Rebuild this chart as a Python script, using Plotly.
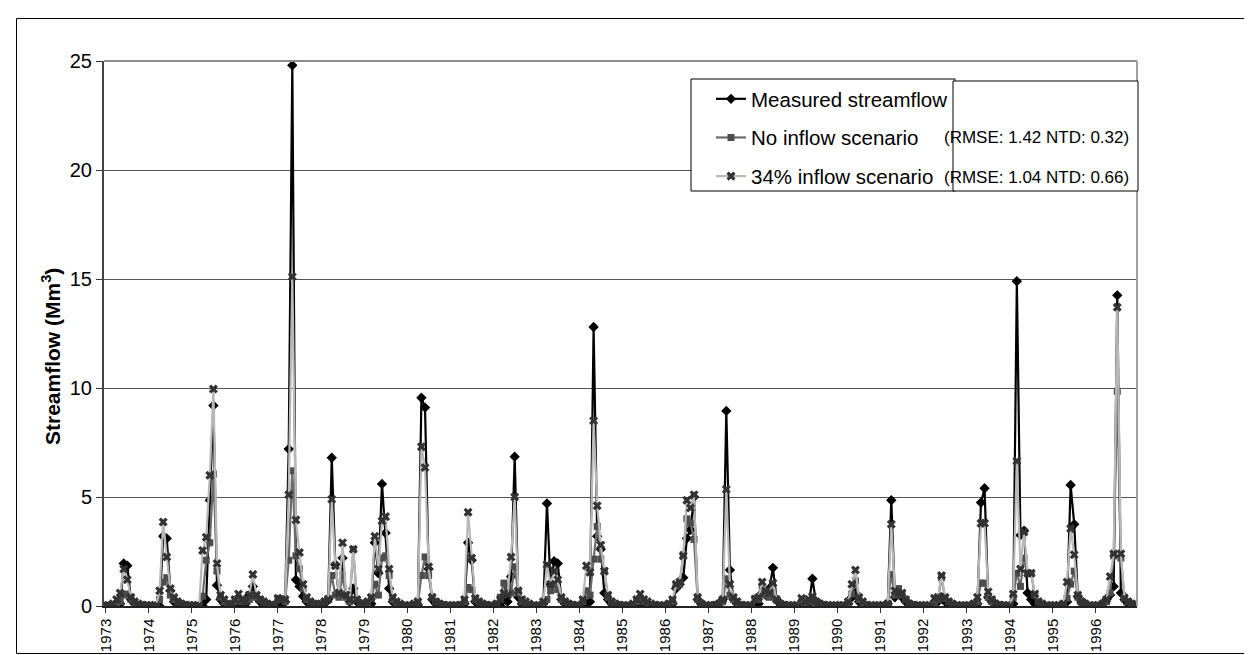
import plotly.graph_objects as go

years = list(range(1973, 1997))
tick_labels = [str(y) for y in years]

# Monthly streamflow (Mm3), Jan..Dec for each year 1973-1996
measured = [
    0.0, 0.0, 0.0, 0.0, 0.1, 1.95, 1.85, 0.3, 0.1, 0.0, 0.0, 0.0,      # 1973
    0.0, 0.0, 0.0, 0.0, 3.2, 3.1, 0.7, 0.2, 0.1, 0.05, 0.0, 0.0,       # 1974
    0.0, 0.0, 0.0, 0.0, 0.3, 4.85, 9.2, 0.95, 0.3, 0.1, 0.05, 0.0,     # 1975
    0.1, 0.2, 0.1, 0.1, 0.5, 0.9, 0.4, 0.2, 0.1, 0.05, 0.0, 0.0,       # 1976
    0.1, 0.1, 0.2, 7.2, 24.8, 1.2, 0.9, 0.45, 0.2, 0.1, 0.05, 0.0,     # 1977
    0.0, 0.1, 0.3, 6.8, 1.9, 0.5, 2.2, 0.5, 0.2, 0.8, 0.2, 0.1,        # 1978
    0.0, 0.0, 0.1, 2.9, 1.5, 5.6, 3.35, 0.8, 0.2, 0.1, 0.0, 0.0,       # 1979
    0.0, 0.0, 0.0, 0.05, 9.55, 9.1, 1.7, 0.3, 0.1, 0.05, 0.0, 0.0,     # 1980
    0.0, 0.0, 0.0, 0.0, 0.1, 2.9, 2.1, 0.2, 0.1, 0.0, 0.0, 0.0,        # 1981
    0.0, 0.0, 0.0, 0.3, 0.2, 1.35, 6.85, 0.4, 0.1, 0.05, 0.0, 0.0,     # 1982
    0.0, 0.0, 0.1, 4.7, 1.0, 2.05, 1.95, 0.3, 0.1, 0.0, 0.0, 0.0,      # 1983
    0.0, 0.0, 0.1, 0.2, 12.8, 3.2, 2.6, 0.6, 0.3, 0.1, 0.0, 0.0,       # 1984
    0.0, 0.0, 0.0, 0.0, 0.05, 0.2, 0.1, 0.05, 0.0, 0.0, 0.0, 0.0,      # 1985
    0.0, 0.0, 0.1, 0.8, 1.0, 1.3, 3.1, 3.5, 5.0, 0.3, 0.1, 0.0,        # 1986
    0.0, 0.0, 0.0, 0.1, 0.3, 8.95, 1.65, 0.3, 0.1, 0.0, 0.0, 0.0,      # 1987
    0.0, 0.0, 0.1, 0.6, 0.5, 0.8, 1.75, 0.3, 0.1, 0.0, 0.0, 0.0,       # 1988
    0.0, 0.0, 0.0, 0.0, 0.1, 1.25, 0.2, 0.1, 0.0, 0.0, 0.0, 0.0,       # 1989
    0.0, 0.0, 0.0, 0.1, 0.4, 0.6, 0.2, 0.1, 0.0, 0.0, 0.0, 0.0,        # 1990
    0.0, 0.0, 0.1, 4.85, 0.4, 0.6, 0.4, 0.2, 0.1, 0.0, 0.0, 0.0,       # 1991
    0.0, 0.0, 0.0, 0.1, 0.2, 0.4, 0.2, 0.1, 0.0, 0.0, 0.0, 0.0,        # 1992
    0.0, 0.0, 0.0, 0.1, 4.75, 5.4, 0.4, 0.2, 0.1, 0.0, 0.0, 0.0,       # 1993
    0.0, 0.1, 14.9, 3.25, 3.45, 0.6, 0.3, 0.1, 0.0, 0.0, 0.0, 0.0,     # 1994
    0.0, 0.0, 0.0, 0.0, 0.2, 5.55, 3.75, 0.45, 0.2, 0.1, 0.0, 0.0,     # 1995
    0.0, 0.0, 0.1, 0.3, 0.5, 0.9, 14.25, 0.6, 0.3, 0.1, 0.05, 0.0,     # 1996
]

no_inflow = [
    0.0, 0.0, 0.05, 0.1, 0.2, 0.5, 0.55, 0.3, 0.15, 0.05, 0.0, 0.0,    # 1973
    0.0, 0.0, 0.0, 0.3, 1.1, 1.3, 0.5, 0.3, 0.2, 0.1, 0.05, 0.0,       # 1974
    0.0, 0.0, 0.0, 0.45, 2.1, 2.9, 6.05, 1.6, 0.4, 0.2, 0.1, 0.05,     # 1975
    0.2, 0.3, 0.2, 0.2, 0.3, 0.5, 0.4, 0.3, 0.2, 0.1, 0.05, 0.0,       # 1976
    0.35, 0.3, 0.2, 2.1, 6.2, 2.3, 1.7, 0.8, 0.3, 0.2, 0.1, 0.05,      # 1977
    0.1, 0.2, 0.35, 1.4, 0.5, 0.4, 1.4, 0.4, 0.2, 2.6, 0.3, 0.1,       # 1978
    0.1, 0.1, 0.35, 1.0, 0.5, 2.2, 2.3, 1.4, 0.3, 0.15, 0.05, 0.0,     # 1979
    0.0, 0.0, 0.05, 0.1, 1.4, 2.25, 1.4, 0.4, 0.2, 0.1, 0.05, 0.0,     # 1980
    0.0, 0.0, 0.0, 0.0, 0.2, 0.85, 0.75, 0.3, 0.2, 0.1, 0.05, 0.0,     # 1981
    0.0, 0.1, 0.4, 1.05, 0.9, 0.6, 1.8, 0.6, 0.2, 0.1, 0.05, 0.0,      # 1982
    0.0, 0.0, 0.1, 0.3, 0.7, 1.0, 0.75, 0.3, 0.2, 0.1, 0.05, 0.0,      # 1983
    0.0, 0.2, 0.7, 0.5, 2.15, 3.65, 2.15, 1.6, 0.4, 0.2, 0.1, 0.05,    # 1984
    0.0, 0.0, 0.0, 0.05, 0.2, 0.35, 0.2, 0.1, 0.05, 0.0, 0.0, 0.0,     # 1985
    0.0, 0.1, 0.2, 0.9, 1.0, 2.35, 4.0, 3.8, 3.05, 0.3, 0.1, 0.0,      # 1986
    0.0, 0.0, 0.05, 0.1, 0.2, 1.25, 0.5, 0.3, 0.1, 0.05, 0.0, 0.0,     # 1987
    0.0, 0.35, 0.3, 0.8, 0.5, 0.4, 0.7, 0.3, 0.1, 0.05, 0.0, 0.0,      # 1988
    0.0, 0.0, 0.2, 0.1, 0.2, 0.35, 0.2, 0.1, 0.05, 0.0, 0.0, 0.0,      # 1989
    0.0, 0.0, 0.0, 0.1, 0.55, 1.15, 0.3, 0.15, 0.05, 0.0, 0.0, 0.0,    # 1990
    0.0, 0.0, 0.1, 1.45, 0.5, 0.8, 0.5, 0.3, 0.1, 0.05, 0.0, 0.0,      # 1991
    0.0, 0.0, 0.0, 0.1, 0.3, 1.3, 0.35, 0.2, 0.1, 0.0, 0.0, 0.0,       # 1992
    0.0, 0.0, 0.1, 0.2, 1.05, 1.05, 0.4, 0.2, 0.1, 0.05, 0.0, 0.0,     # 1993
    0.0, 0.4, 1.5, 0.9, 2.2, 1.5, 1.5, 0.5, 0.2, 0.1, 0.0, 0.0,        # 1994
    0.0, 0.0, 0.0, 0.1, 0.35, 1.0, 1.6, 0.4, 0.2, 0.1, 0.0, 0.0,       # 1995
    0.0, 0.0, 0.1, 0.2, 0.6, 2.3, 9.85, 2.2, 0.4, 0.2, 0.1, 0.05,      # 1996
]

inflow_34 = [
    0.0, 0.0, 0.1, 0.3, 0.6, 1.7, 1.2, 0.4, 0.2, 0.1, 0.05, 0.0,       # 1973
    0.0, 0.0, 0.0, 0.7, 3.85, 2.25, 0.8, 0.4, 0.2, 0.1, 0.05, 0.0,     # 1974
    0.0, 0.0, 0.0, 2.55, 3.15, 6.0, 9.95, 1.95, 0.5, 0.3, 0.1, 0.05,   # 1975
    0.3, 0.55, 0.3, 0.2, 0.5, 1.45, 0.5, 0.3, 0.2, 0.1, 0.05, 0.0,     # 1976
    0.35, 0.3, 0.3, 5.1, 15.1, 3.95, 2.45, 1.0, 0.4, 0.2, 0.1, 0.05,   # 1977
    0.1, 0.2, 0.3, 4.9, 1.85, 0.6, 2.9, 0.5, 0.3, 2.6, 0.3, 0.1,       # 1978
    0.1, 0.2, 0.4, 3.2, 1.7, 3.9, 4.1, 1.7, 0.4, 0.2, 0.1, 0.0,        # 1979
    0.0, 0.0, 0.1, 0.2, 7.3, 6.35, 1.8, 0.4, 0.2, 0.1, 0.05, 0.0,      # 1980
    0.0, 0.0, 0.0, 0.05, 0.3, 4.3, 2.2, 0.35, 0.2, 0.1, 0.05, 0.0,     # 1981
    0.0, 0.1, 0.3, 0.6, 0.5, 2.25, 5.0, 0.7, 0.3, 0.2, 0.1, 0.0,       # 1982
    0.0, 0.0, 0.2, 1.9, 1.0, 1.6, 1.2, 0.4, 0.2, 0.1, 0.05, 0.0,       # 1983
    0.0, 0.3, 1.85, 1.55, 8.5, 4.6, 2.8, 1.6, 0.5, 0.2, 0.1, 0.05,     # 1984
    0.0, 0.0, 0.0, 0.1, 0.3, 0.55, 0.3, 0.2, 0.1, 0.05, 0.0, 0.0,      # 1985
    0.0, 0.1, 0.3, 1.0, 1.1, 2.3, 4.85, 4.5, 5.1, 0.4, 0.1, 0.0,       # 1986
    0.0, 0.0, 0.05, 0.1, 0.3, 5.35, 1.0, 0.4, 0.2, 0.05, 0.0, 0.0,     # 1987
    0.0, 0.3, 0.4, 1.1, 0.7, 0.6, 1.05, 0.3, 0.1, 0.05, 0.0, 0.0,      # 1988
    0.0, 0.0, 0.35, 0.2, 0.3, 0.45, 0.2, 0.1, 0.05, 0.0, 0.0, 0.0,     # 1989
    0.0, 0.0, 0.0, 0.2, 1.0, 1.65, 0.4, 0.2, 0.05, 0.0, 0.0, 0.0,      # 1990
    0.0, 0.0, 0.1, 3.75, 0.7, 0.6, 0.6, 0.3, 0.1, 0.05, 0.0, 0.0,      # 1991
    0.0, 0.0, 0.0, 0.35, 0.4, 1.4, 0.4, 0.2, 0.1, 0.0, 0.0, 0.0,       # 1992
    0.0, 0.0, 0.1, 0.4, 3.8, 3.8, 0.65, 0.3, 0.1, 0.05, 0.0, 0.0,      # 1993
    0.0, 0.55, 6.65, 1.7, 3.4, 1.5, 1.5, 0.55, 0.2, 0.1, 0.0, 0.0,     # 1994
    0.0, 0.0, 0.0, 0.1, 1.1, 3.55, 2.35, 0.5, 0.2, 0.1, 0.0, 0.0,      # 1995
    0.0, 0.0, 0.1, 0.3, 1.35, 2.4, 13.7, 2.4, 0.35, 0.2, 0.1, 0.05,    # 1996
]

x_idx = list(range(len(measured)))
tick_pos = [12 * k for k in range(len(years))]

# plot-area pixel geometry
W, H = 1252, 655
L, R, T, B = 96, 1129, 53, 598
PW, PH = R - L, B - T


def px(xp):
    return (xp - L) / PW


def py(yp):
    return (B - yp) / PH


FONT = "Arial, Liberation Sans, sans-serif"

fig = go.Figure()
fig.add_trace(go.Scatter(
    x=x_idx, y=measured, name="Measured streamflow", mode="lines+markers",
    line=dict(color="#000000", width=2.2),
    marker=dict(symbol="diamond", size=8, color="#000000"),
    legendgroup="a"))
fig.add_trace(go.Scatter(
    x=x_idx, y=no_inflow, name="No inflow scenario", mode="lines+markers",
    line=dict(color="#6a6a6a", width=2.2),
    marker=dict(symbol="square", size=7, color="#4d4d4d"),
    legendgroup="b"))
fig.add_trace(go.Scatter(
    x=x_idx, y=inflow_34, name="34% inflow scenario", mode="lines+markers",
    line=dict(color="#b8b8b8", width=2.2),
    marker=dict(symbol="x", size=8, color="#333333"),
    legendgroup="c"))

shapes = [
    dict(type="rect", xref="paper", yref="paper",
         x0=px(8.5), x1=px(1242.5), y0=py(10.5), y1=py(645.5),
         line=dict(color="#000000", width=1), layer="below"),
    dict(type="line", xref="paper", yref="paper", x0=0, x1=1, y0=1, y1=1,
         line=dict(color="#8c8c8c", width=2), layer="above"),
    dict(type="line", xref="paper", yref="paper", x0=1, x1=1, y0=0, y1=1,
         line=dict(color="#a0a0a0", width=2), layer="above"),
    dict(type="rect", xref="paper", yref="paper",
         x0=px(683), x1=px(947), y0=py(183), y1=py(71),
         fillcolor="#ffffff", line=dict(color="#000000", width=1), layer="above"),
    dict(type="rect", xref="paper", yref="paper",
         x0=px(945), x1=px(1130), y0=py(183), y1=py(73),
         fillcolor="#ffffff", line=dict(color="#000000", width=1), layer="above"),
]

annotations = [
    dict(text="<b>Streamflow (Mm<sup>3</sup>)</b>", textangle=-90,
         xref="paper", yref="paper", x=px(43), y=py(349),
         xanchor="center", yanchor="middle", showarrow=False,
         font=dict(family=FONT, size=21, color="#000000")),
    dict(text="(RMSE: 1.42 NTD: 0.32)", xref="paper", yref="paper",
         x=px(934), y=py(129), xanchor="left", yanchor="middle", showarrow=False,
         font=dict(family=FONT, size=17, color="#000000")),
    dict(text="(RMSE: 1.04 NTD: 0.66)", xref="paper", yref="paper",
         x=px(934), y=py(169), xanchor="left", yanchor="middle", showarrow=False,
         font=dict(family=FONT, size=17, color="#000000")),
]

fig.update_layout(
    width=W, height=H,
    margin=dict(l=L, r=W - R, t=T, b=H - B, autoexpand=False),
    paper_bgcolor="#ffffff", plot_bgcolor="#ffffff",
    font=dict(family=FONT, color="#000000"),
    showlegend=True,
    legend=dict(x=px(703), y=py(71), xanchor="left", yanchor="top",
                bgcolor="rgba(0,0,0,0)", borderwidth=0,
                font=dict(family=FONT, size=20.5, color="#000000"),
                tracegroupgap=9, itemwidth=30),
    shapes=shapes,
    annotations=annotations,
    xaxis=dict(range=[-0.5, len(measured) - 0.5], tickmode="array",
               tickvals=tick_pos, ticktext=tick_labels, tickangle=-90,
               tickfont=dict(family=FONT, size=15, color="#000000"),
               ticks="outside", ticklen=5, tickcolor="#333333", tickwidth=1,
               showline=True, linecolor="#222222", linewidth=1.5,
               showgrid=False, zeroline=False),
    yaxis=dict(range=[0, 25], tickmode="linear", tick0=0, dtick=5,
               tickfont=dict(family=FONT, size=20, color="#000000"),
               ticks="outside", ticklen=6, tickcolor="#333333", tickwidth=1,
               showline=True, linecolor="#444444", linewidth=2,
               showgrid=True, gridcolor="#555555", gridwidth=1,
               zeroline=False),
)

fig.write_html("out.html")
